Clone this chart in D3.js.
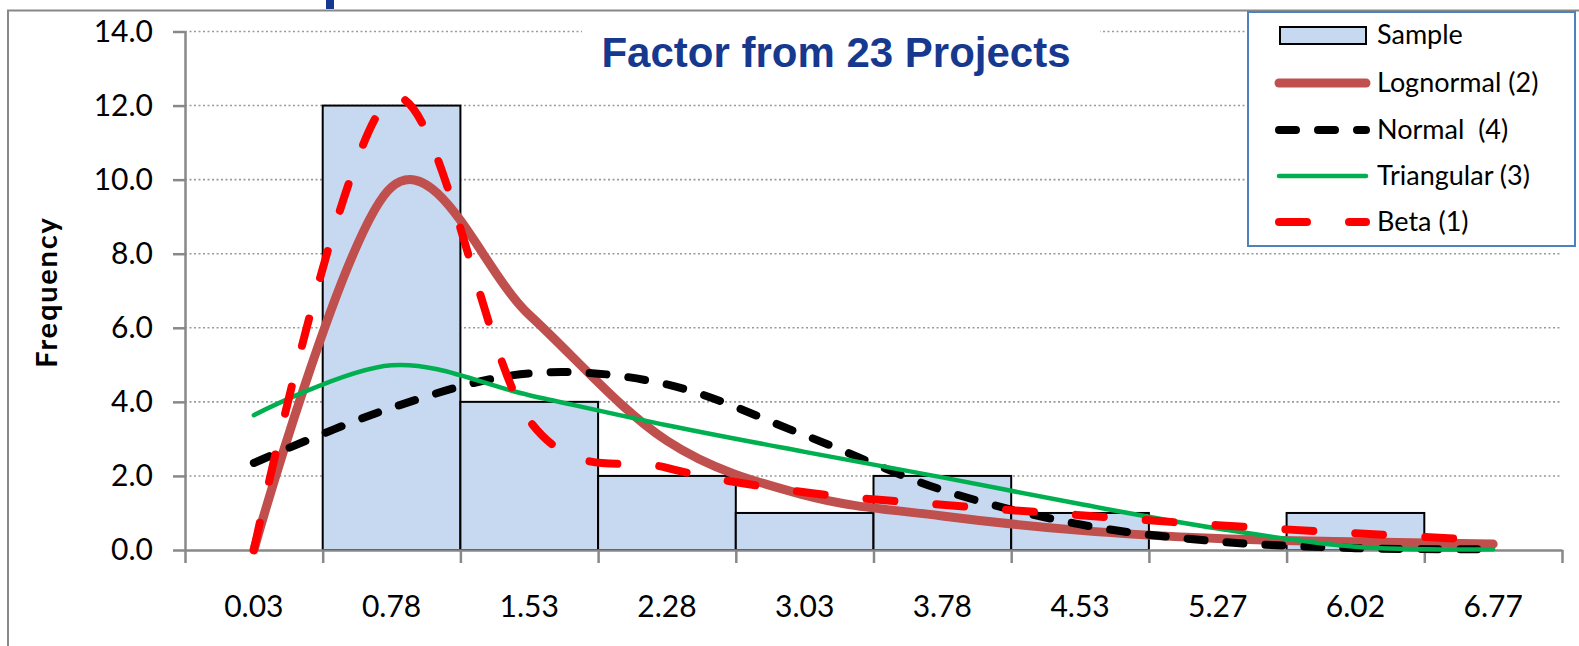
<!DOCTYPE html>
<html>
<head>
<meta charset="utf-8">
<script src="https://cdn.jsdelivr.net/npm/d3@7/dist/d3.min.js"></script>
<style>
  html, body { margin: 0; padding: 0; background: #fff; }
  svg { display: block; }
  text { white-space: pre; }
</style>
</head>
<body>
<svg id="chart" width="1579" height="646"></svg>
<script>
// Histogram bins (bin centre labels) and observed counts
const categories = ["0.03", "0.78", "1.53", "2.28", "3.03", "3.78", "4.53", "5.27", "6.02", "6.77"];
const sample     = [0, 12, 4, 2, 1, 2, 1, 0, 1, 0];

// Fitted distributions, expected frequency per bin
const lognormal  = [0, 9.8, 6.35, 2.95, 1.48, 0.92, 0.53, 0.31, 0.22, 0.16];
const normal     = [2.35, 3.84, 4.77, 4.47, 3.10, 1.62, 0.69, 0.23, 0.05, 0.02];
const triangular = [3.64, 4.99, 4.18, 3.37, 2.65, 1.96, 1.24, 0.58, 0.09, 0.02];
const beta       = [0, 12.2, 3.5, 2.22, 1.56, 1.22, 0.94, 0.67, 0.45, 0.26];

const yTicks = [0, 2, 4, 6, 8, 10, 12, 14];
const titleText = "Factor from 23 Projects";
const yLabel = "Frequency";

const seriesList = [
  { name: "Lognormal (2)", values: lognormal,  color: "#C0504D", width: 9, dash: null },
  { name: "Normal  (4)",   values: normal,     color: "#000000", width: 8, dash: "17,22" },
  { name: "Triangular (3)",values: triangular, color: "#00B050", width: 4.5, dash: null },
  { name: "Beta (1)",      values: beta,       color: "#FF0000", width: 8, dash: "28,42" }
];

const svg = d3.select("#chart");
const plot = { left: 185, right: 1562, top: 31.5, bottom: 550 };

const x = d3.scaleBand().domain(categories).range([plot.left, plot.right]).paddingInner(0).paddingOuter(0);
const xEdge = d3.scaleLinear().domain([0, categories.length]).range([plot.left, plot.right]);
const y = d3.scaleLinear().domain([0, 14]).range([plot.bottom, plot.top]);

// Outer frame (top and left edges visible)
svg.append("path")
  .attr("d", `M8,646 L8,10.5 L1579,10.5`)
  .attr("fill", "none").attr("stroke", "#888").attr("stroke-width", 2);

// Small fragment of heading above the frame
svg.append("rect").attr("x", 326).attr("y", 0).attr("width", 8).attr("height", 9).attr("fill", "#16398f");

// Horizontal dotted gridlines
svg.append("g").selectAll("line")
  .data(yTicks.filter(d => d > 0))
  .join("line")
  .attr("x1", plot.left).attr("x2", plot.right)
  .attr("y1", d => y(d)).attr("y2", d => y(d))
  .attr("stroke", "#9a9a9a").attr("stroke-width", 1.6).attr("stroke-dasharray", "2,2.5");

// Histogram bars
svg.append("g").selectAll("rect")
  .data(categories.map((c, i) => ({ c, v: sample[i] })).filter(d => d.v > 0))
  .join("rect")
  .attr("x", d => x(d.c)).attr("width", x.bandwidth())
  .attr("y", d => y(d.v)).attr("height", d => y(0) - y(d.v))
  .attr("fill", "#C6D9F1").attr("stroke", "#000").attr("stroke-width", 2);

// Y axis
const yAxis = svg.append("g").attr("transform", `translate(${plot.left},0)`)
  .call(d3.axisLeft(y).tickValues(yTicks).tickFormat(d3.format(".1f")).tickSize(12).tickSizeOuter(0).tickPadding(20));
yAxis.select(".domain").attr("stroke", "#888").attr("stroke-width", 2.5);
yAxis.selectAll(".tick line").attr("stroke", "#888").attr("stroke-width", 2.5);
yAxis.selectAll(".tick text").attr("font-family", "Lato, 'Open Sans', sans-serif").attr("font-size", 30).attr("fill", "#000");

// X axis: boundary ticks
const xAxis = svg.append("g").attr("transform", `translate(0,${plot.bottom})`)
  .call(d3.axisBottom(xEdge).tickValues(d3.range(categories.length + 1)).tickFormat("").tickSize(13).tickSizeOuter(0));
xAxis.select(".domain").attr("stroke", "#888").attr("stroke-width", 2.5);
xAxis.selectAll(".tick line").attr("stroke", "#888").attr("stroke-width", 2.5);

// X axis: category labels centred in bins
const xLab = svg.append("g").attr("transform", `translate(0,${plot.bottom})`)
  .call(d3.axisBottom(x).tickSize(0).tickPadding(46));
xLab.select(".domain").remove();
xLab.selectAll(".tick text").attr("font-family", "Lato, 'Open Sans', sans-serif").attr("font-size", 30).attr("fill", "#000");

// Y axis title
svg.append("text")
  .attr("transform", "translate(57,292) rotate(-90)")
  .attr("text-anchor", "middle")
  .attr("font-family", "Lato, 'Open Sans', sans-serif").attr("font-weight", "bold").attr("font-size", 29)
  .attr("letter-spacing", 1.8)
  .text(yLabel);

// Fitted curves (smoothed through bin centres)
const line = d3.line()
  .x((d, i) => x(categories[i]) + x.bandwidth() / 2)
  .y(d => y(d))
  .curve(d3.curveCardinal.tension(0));

svg.append("g").selectAll("path")
  .data(seriesList)
  .join("path")
  .attr("d", d => line(d.values))
  .attr("fill", "none")
  .attr("stroke", d => d.color)
  .attr("stroke-width", d => d.width)
  .attr("stroke-linecap", "round")
  .attr("stroke-linejoin", "round")
  .attr("stroke-dasharray", d => d.dash);

// Chart title with white backing
svg.append("rect").attr("x", 582).attr("y", 14).attr("width", 518).attr("height", 76).attr("fill", "#fff");
svg.append("text")
  .attr("x", 836).attr("y", 67)
  .attr("text-anchor", "middle")
  .attr("font-family", "'Liberation Sans', Arial, sans-serif").attr("font-weight", "bold").attr("font-size", 42)
  .attr("fill", "#16398f")
  .text(titleText);

// Legend
const legend = svg.append("g");
legend.append("rect").attr("x", 1248).attr("y", 12).attr("width", 327).attr("height", 234)
  .attr("fill", "#fff").attr("stroke", "#4F81BD").attr("stroke-width", 2);

const rowY = [35, 83, 130, 176, 222];
const legendFont = "Lato, 'Open Sans', sans-serif";
legend.append("rect").attr("x", 1280).attr("y", rowY[0] - 8).attr("width", 86).attr("height", 17)
  .attr("fill", "#C6D9F1").attr("stroke", "#000").attr("stroke-width", 2);
legend.append("text").attr("x", 1377).attr("y", rowY[0]).attr("dy", "0.35em")
  .attr("font-family", legendFont).attr("font-size", 27).text("Sample");

seriesList.forEach((s, i) => {
  const yy = rowY[i + 1];
  legend.append("line")
    .attr("x1", 1279).attr("x2", 1366).attr("y1", yy).attr("y2", yy)
    .attr("stroke", s.color).attr("stroke-width", s.width)
    .attr("stroke-linecap", "round")
    .attr("stroke-dasharray", s.dash);
  legend.append("text").attr("x", 1377).attr("y", yy).attr("dy", "0.35em")
    .attr("font-family", legendFont).attr("font-size", 27).text(s.name);
});
</script>
</body>
</html>
